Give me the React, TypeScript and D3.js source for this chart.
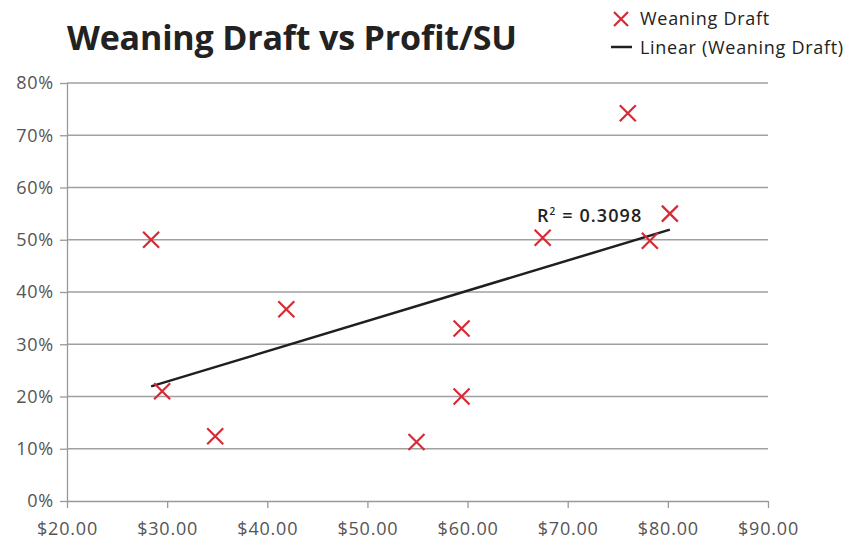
import * as d3 from 'd3';
import React, { useEffect, useRef } from 'react';

// profit per SU ($) and weaning draft (%)
const profit = [28.4, 29.5, 34.8, 41.9, 54.9, 59.4, 59.4, 67.5, 76.0, 78.2, 80.2];
const draft = [0.50, 0.21, 0.124, 0.367, 0.113, 0.33, 0.20, 0.504, 0.742, 0.498, 0.55];
const xTicks = [20, 30, 40, 50, 60, 70, 80, 90];
const yTicks = [0, 0.1, 0.2, 0.3, 0.4, 0.5, 0.6, 0.7, 0.8];
const legendLabels = ['Weaning Draft', 'Linear (Weaning Draft)'];
const rSquaredLabel = '0.3098';

const W = 856;
const H = 543;
const FONT = '"Open Sans", sans-serif';

const App = () => {
  const ref = useRef(null);

  useEffect(() => {
    const svg = d3.select(ref.current);
    svg.selectAll('*').remove();

    const x = d3.scaleLinear().domain([20, 90]).range([67, 768]);
    const y = d3.scaleLinear().domain([0, 0.8]).range([501, 83]);

    // gridlines
    svg.append('g')
      .selectAll('line')
      .data(yTicks.slice(1))
      .enter()
      .append('line')
      .attr('x1', x(20))
      .attr('x2', x(90))
      .attr('y1', d => y(d))
      .attr('y2', d => y(d))
      .attr('stroke', '#a0a0a0')
      .attr('stroke-width', 1.3);

    const yAxis = svg.append('g')
      .attr('transform', `translate(${x(20)},0)`)
      .call(d3.axisLeft(y).tickValues(yTicks).tickFormat(d3.format('.0%')).tickSize(7).tickPadding(6));
    const xAxis = svg.append('g')
      .attr('transform', `translate(0,${y(0)})`)
      .call(d3.axisBottom(x).tickValues(xTicks).tickFormat(d => '$' + d3.format('.2f')(d)).tickSize(7).tickPadding(14));

    [yAxis, xAxis].forEach(g => {
      g.select('.domain').attr('stroke', '#999').attr('stroke-width', 1.3);
      g.selectAll('.tick line').attr('stroke', '#999').attr('stroke-width', 1.3);
      g.selectAll('.tick text')
        .attr('fill', '#555')
        .style('font-family', FONT)
        .style('font-size', '18px')
        .style('letter-spacing', '0.8px');
    });
    // x axis domain without outer ticks
    xAxis.select('.domain').attr('d', `M${x(20)},0.5H${x(90)}`);
    yAxis.select('.domain').attr('d', `M0.5,${y(0.8)}V${y(0)}`);

    // linear trendline
    const mx = d3.mean(profit);
    const my = d3.mean(draft);
    let sxy = 0;
    let sxx = 0;
    profit.forEach((p, i) => {
      sxy += (p - mx) * (draft[i] - my);
      sxx += (p - mx) * (p - mx);
    });
    const slope = sxy / sxx;
    const icpt = my - slope * mx;
    const [x0, x1] = d3.extent(profit);
    svg.append('line')
      .attr('x1', x(x0))
      .attr('y1', y(icpt + slope * x0))
      .attr('x2', x(x1))
      .attr('y2', y(icpt + slope * x1))
      .attr('stroke', '#1f1f1f')
      .attr('stroke-width', 2.5);

    // markers
    const s = 8;
    svg.append('g')
      .selectAll('path')
      .data(profit.map((p, i) => [p, draft[i]]))
      .enter()
      .append('path')
      .attr('d', d => {
        const cx = x(d[0]);
        const cy = y(d[1]);
        return `M${cx - s},${cy - s}L${cx + s},${cy + s}M${cx - s},${cy + s}L${cx + s},${cy - s}`;
      })
      .attr('stroke', '#d62a35')
      .attr('stroke-width', 2.2)
      .attr('fill', 'none');

    // R² label
    const r = svg.append('text')
      .attr('x', 537)
      .attr('y', 222)
      .attr('fill', '#222')
      .style('font-family', FONT)
      .style('font-size', '18px')
      .style('font-weight', 600)
      .style('letter-spacing', '1.1px');
    r.append('tspan').text('R');
    r.append('tspan').attr('dy', -7).style('font-size', '10px').text('2');
    r.append('tspan').attr('dy', 7).text(' = ' + rSquaredLabel);

    // title
    svg.append('text')
      .attr('x', 67)
      .attr('y', 50)
      .attr('fill', '#222')
      .attr('textLength', 450)
      .style('font-family', FONT)
      .style('font-size', '34px')
      .style('font-weight', 700)
      .text('Weaning Draft vs Profit/SU');

    // legend
    const lg = svg.append('g');
    lg.append('path')
      .attr('d', `M${621 - 7},${12}L${621 + 7},${26}M${621 - 7},${26}L${621 + 7},${12}`)
      .attr('stroke', '#d62a35')
      .attr('stroke-width', 2.2);
    lg.append('line')
      .attr('x1', 611).attr('x2', 632)
      .attr('y1', 47).attr('y2', 47)
      .attr('stroke', '#1f1f1f')
      .attr('stroke-width', 2.5);
    lg.selectAll('text')
      .data(legendLabels)
      .enter()
      .append('text')
      .attr('x', 640)
      .attr('y', (d, i) => 25 + i * 29)
      .attr('fill', '#222')
      .style('font-family', FONT)
      .style('font-size', '18px')
      .style('letter-spacing', '0.7px')
      .text(d => d);
  }, []);

  return (
    <svg ref={ref} width={W} height={H} style={{ position: 'absolute', left: 0, top: 0, background: '#fff' }}></svg>
  );
};

export default App;
